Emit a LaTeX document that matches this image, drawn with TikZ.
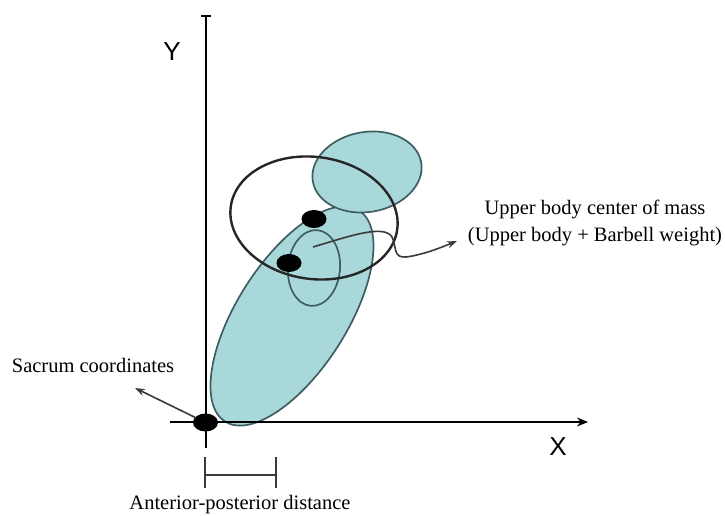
\documentclass[tikz,border=0pt]{standalone}
\usepackage{fontspec}
\setmainfont{Liberation Serif}
\setsansfont{Liberation Sans}
\usetikzlibrary{arrows.meta, positioning, shapes.geometric}
\definecolor{cteal}{HTML}{A9D8DB}
\definecolor{cedge}{HTML}{3F5E62}
\definecolor{cgrey}{HTML}{3A3A3A}
\tikzset{
  every picture/.style={x=1pt, y=1pt},
  axis/.style={draw=black, line width=2.4pt},
  segment/.style={draw=cedge, fill=cteal, line width=1.7pt},
  outline/.style={draw=cedge, line width=1.7pt},
  mass/.style={draw=black!85, line width=2.4pt},
  dot/.style={ellipse, fill=black, inner sep=0pt, minimum width=25pt, minimum height=18pt},
  arrow/.style={-{Stealth[length=10pt, width=7pt]}, draw=cgrey, line width=1.6pt},
  label/.style={font=\fontsize{20.5}{27}\selectfont, align=center, inner sep=0pt},
  axislabel/.style={font=\sffamily\fontsize{26}{26}\selectfont, inner sep=0pt},
}
\begin{document}
\begin{tikzpicture}
  \useasboundingbox (0,0) rectangle (725,516);
  % body segments
  \draw[segment, rotate around={57.6:(292,200)}] (292,200) ellipse (125 and 55);
  \draw[segment, rotate around={10:(367,344)}] (367,344) ellipse (55 and 40);
  \draw[outline, rotate around={-5:(314,248)}] (314,248) ellipse (26 and 38);
  \draw[mass, rotate around={-8:(314,298)}] (314,298) ellipse (84 and 61);
  % axes
  \draw[axis, -{Bar[width=10pt]}] (206,68) -- (206,501);
  \draw[axis, -{Stealth[length=11pt, width=9pt]}] (170,94) -- (588,94);
  \node[axislabel] (ylab) at (172,464) {Y};
  \node[axislabel] (xlab) at (558,69) {X};
  % joint points
  \node[dot] (sacrum) at (205.5,93.5) {};
  \node[dot] (upper) at (314,297) {};
  \node[dot] (lower) at (289,253) {};
  % labels
  \node[label] (sacrumtext) at (93,151) {Sacrum coordinates};
  \node[label] (comtext) at (595,293) {Upper body center of mass\\(Upper body + Barbell weight)};
  \node[label, anchor=base] (aptext) at (240,6) {Anterior-posterior distance};
  \coordinate (sacrumtip) at (135,128);
  \coordinate (com) at (313,269);
  \coordinate (comtip) at (457,275);
  \draw[arrow] (sacrum) -- (sacrumtip);
  \draw[arrow] (com) .. controls (350,280) and (384,292) .. (392,279)
    .. controls (397,268) and (393,258) .. (406,259)
    .. controls (422,261) and (440,268) .. (comtip);
  % distance bracket
  \draw[cgrey, line width=2pt] (205,28) -- (205,59) (276,28) -- (276,59) (205,41) -- (276,41);
\end{tikzpicture}
\end{document}
